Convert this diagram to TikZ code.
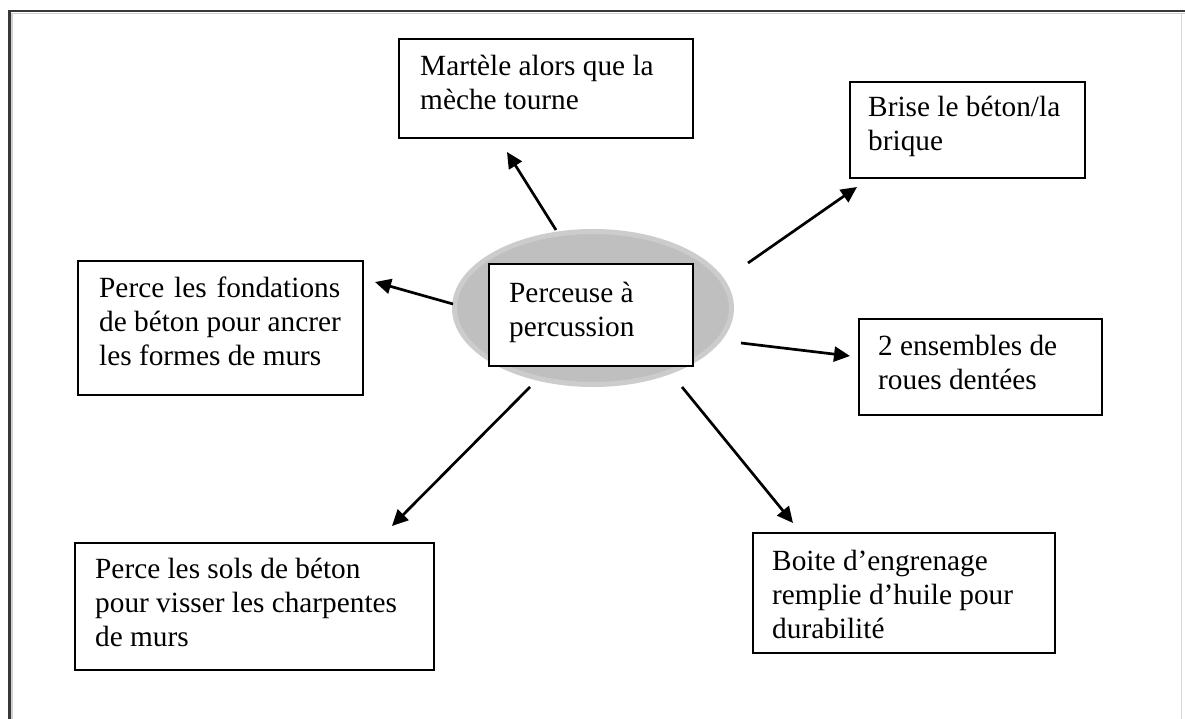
\documentclass[tikz,border=0pt]{standalone}
\usepackage{fontspec}
\setmainfont{Liberation Serif}
\usetikzlibrary{arrows.meta,shapes.geometric}
\newcommand{\txtlines}[1]{\begin{tabular}[t]{@{}l@{}}#1\end{tabular}}
\begin{document}
\begin{tikzpicture}[x=1pt,y=-1pt,
  box/.style={draw=black,line width=2pt,anchor=north west,inner sep=0pt,fill=white},
  lbl/.style={anchor=base west,inner sep=0pt,font=\fontsize{29.3}{34}\selectfont},
  arr/.style={line width=2.7pt,-{Triangle[length=16pt,width=15pt]}}]
\useasboundingbox (0,0) rectangle (1185,719);
\fill[white] (0,0) rectangle (1185,719);
% frame
\draw[line width=2.5pt,black!78] (9.7,719) -- (9.7,11.2) -- (1185,11.2);
\draw[line width=1.6pt,black!18] (12.1,719) -- (12.1,13.4) -- (1185,13.4);
\draw[line width=1pt,black!15] (1181,13) -- (1181,719);
% center
\node[ellipse,draw=black!20,fill=black!25,line width=5pt,minimum width=277pt,minimum height=153pt,inner sep=0pt] (c) at (593,308) {};
\node[box,line width=1.6pt,minimum width=204pt,minimum height=102pt] (cbox) at (488,263) {};
\node[lbl] (ct) at (509,302) {\txtlines{Perceuse à\\percussion}};
% boxes
\node[box,minimum width=294pt,minimum height=99pt] (b1) at (398,38) {};
\node[lbl] (l1) at (420,76) {\txtlines{Martèle alors que la\\mèche tourne}};
\node[box,minimum width=235pt,minimum height=96pt] (b2) at (849,81) {};
\node[lbl] (l2) at (868,117) {\txtlines{Brise le béton/la\\brique}};
\node[box,minimum width=285pt,minimum height=134pt] (b3) at (77,260) {};
\node[lbl] (l3) at (99,297) {\txtlines{\makebox[241pt][s]{Perce les fondations}\\de béton pour ancrer\\les formes de murs}};
\node[box,minimum width=243pt,minimum height=96pt] (b4) at (858,318) {};
\node[lbl] (l4) at (878,355) {\txtlines{2 ensembles de\\roues dentées}};
\node[box,minimum width=359pt,minimum height=127pt] (b5) at (74,542) {};
\node[lbl] (l5) at (95,578) {\txtlines{Perce les sols de béton\\pour visser les charpentes\\de murs}};
\node[box,minimum width=302pt,minimum height=120pt] (b6) at (752,532) {};
\node[lbl] (l6) at (772,570) {\txtlines{Boite d’engrenage\\remplie d’huile pour\\durabilité}};
% connector ends
\coordinate (t1) at (556,230); \coordinate (h1) at (507,152);
\coordinate (t2) at (748,263); \coordinate (h2) at (857,187);
\coordinate (t3) at (453,304); \coordinate (h3) at (375,282);
\coordinate (t4) at (741,343); \coordinate (h4) at (850,356);
\coordinate (t5) at (530,387); \coordinate (h5) at (392,526);
\coordinate (t6) at (682,387); \coordinate (h6) at (793,523);
\draw[arr] (t1) -- (h1);
\draw[arr] (t2) -- (h2);
\draw[arr] (t3) -- (h3);
\draw[arr] (t4) -- (h4);
\draw[arr] (t5) -- (h5);
\draw[arr] (t6) -- (h6);
\end{tikzpicture}
\end{document}
